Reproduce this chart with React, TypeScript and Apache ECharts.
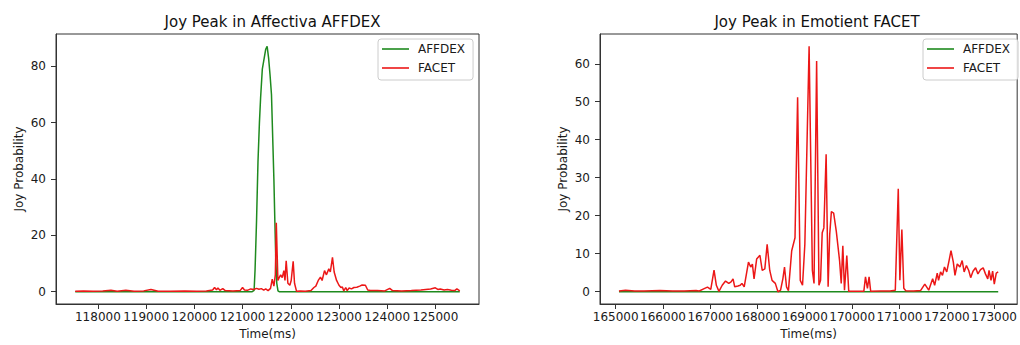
import React, { useEffect, useRef } from "react";
import * as echarts from "echarts";

// ---------- data (time in ms, joy probability) ----------
const leftAffdex: [number, number][] = [
  [117530, 0], [118500, 0], [119500, 0], [120500, 0], [121200, 0],
  [121240, 0.5], [121260, 8], [121290, 25], [121320, 46], [121350, 60],
  [121375, 69], [121410, 79], [121450, 83], [121480, 86], [121510, 87.1],
  [121540, 83], [121570, 77], [121600, 70], [121630, 52], [121650, 40],
  [121670, 25], [121690, 11], [121710, 3], [121735, 0.3], [121760, 0],
  [122500, 0], [123500, 0], [124500, 0], [125505, 0],
];

const leftFacet: [number, number][] = [
  [117530, 0.2], [117700, 0.25], [117900, 0.2], [118100, 0.3], [118270, 0.5],
  [118400, 0.2], [118580, 0.5], [118750, 0.2], [118950, 0.3], [119100, 0.8],
  [119250, 0.2], [119500, 0.2], [119800, 0.25], [120050, 0.2], [120250, 0.3],
  [120380, 0.6], [120420, 1.5], [120460, 0.7], [120490, 1.3], [120530, 0.5],
  [120590, 1.1], [120640, 0.4], [120800, 0.3], [120950, 0.4], [121000, 1.5],
  [121040, 0.6], [121100, 0.5], [121170, 1.0], [121230, 0.8], [121290, 1.2],
  [121340, 0.9], [121390, 1.1], [121440, 0.6], [121480, 1.0], [121530, 0.4],
  [121580, 1.2], [121616, 4.5], [121650, 2], [121680, 6], [121700, 24.5],
  [121733, 4], [121760, 5], [121790, 6], [121823, 5], [121857, 7.5],
  [121880, 4], [121905, 11], [121940, 3], [121981, 2.3], [122009, 4],
  [122050, 10.8], [122078, 3], [122119, 0.2], [122200, 0.3], [122300, 0.2],
  [122420, 0.4], [122480, 1.5], [122520, 2], [122570, 4], [122616, 5.2],
  [122650, 4], [122700, 7.5], [122740, 6], [122789, 8.1], [122820, 7],
  [122865, 12.2], [122900, 7], [122950, 4], [123000, 2.3], [123040, 1.5],
  [123070, 1.7], [123100, 0.3], [123140, 1.5], [123170, 0.4], [123210, 1.3],
  [123260, 1], [123310, 1.5], [123370, 1.6], [123430, 2], [123480, 2.4],
  [123548, 2.3], [123596, 0.6], [123650, 0.4], [123800, 0.4], [123950, 0.3],
  [124052, 1.2], [124110, 0.4], [124300, 0.3], [124500, 0.4], [124700, 0.6],
  [124800, 0.8], [124900, 1.0], [124997, 1.4], [125050, 0.8], [125100, 1.0],
  [125180, 0.6], [125250, 0.8], [125330, 0.5], [125400, 0.4], [125445, 1.0],
  [125505, 0.3],
];

const rightAffdex: [number, number][] = [
  [165069, 0], [166000, 0], [167000, 0], [168000, 0], [169000, 0],
  [170000, 0], [171000, 0], [172000, 0], [173087, 0],
];

const rightFacet: [number, number][] = [
  [165069, 0.2], [165208, 0.4], [165400, 0.2], [165600, 0.2], [165936, 0.35],
  [166200, 0.2], [166450, 0.2], [166698, 0.3], [166767, 0.2], [166870, 0.8],
  [166940, 1.2], [167010, 0.6], [167079, 5.7], [167128, 1.7], [167183, 0.1],
  [167252, 1.7], [167322, 2.8], [167391, 2.2], [167439, 2.6], [167481, 3.4],
  [167516, 1.3], [167585, 1.5], [167633, 1.7], [167668, 2.2], [167717, 1.3],
  [167807, 7.8], [167855, 6.5], [167890, 7.3], [167925, 3.4], [167980, 8.6],
  [168049, 9.6], [168098, 5.6], [168153, 6.0], [168202, 12.5], [168257, 5.6],
  [168306, 3.0], [168375, 2.2], [168430, 0], [168486, 0.4], [168534, 3.4],
  [168569, 6.5], [168611, 1.3], [168652, 0.3], [168721, 10.8], [168791, 14.2],
  [168846, 51.2], [168902, 3.0], [168950, 1.7], [168999, 12.5], [169089, 64.6],
  [169158, 5.6], [169193, 2.2], [169248, 60.7], [169297, 1.7], [169331, 3.0],
  [169366, 15.5], [169401, 16.8], [169449, 36.2], [169491, 1.3], [169525, 15.1],
  [169560, 21.1], [169608, 20.7], [169664, 15.9], [169733, 8.2], [169768, 2.2],
  [169802, 12.1], [169837, 0.4], [169886, 9.5], [169927, 0.1], [170050, 0.1],
  [170246, 0.1], [170281, 3.9], [170322, 0.9], [170357, 3.9], [170391, 0.1],
  [170600, 0.2], [170800, 0.2], [170911, 0.4], [170974, 27.1], [171008, 3.0],
  [171050, 16.4], [171091, 0.9], [171133, 0.26], [171300, 0.2], [171445, 0.3],
  [171535, 2.0], [171618, 0.4], [171701, 3.4], [171743, 1.7], [171798, 4.9],
  [171826, 3.0], [171868, 5.2], [171909, 4.3], [171951, 6.5], [171999, 5.2],
  [172048, 8.2], [172089, 10.8], [172138, 7.8], [172173, 4.3], [172221, 7.3],
  [172277, 6.5], [172325, 8.2], [172367, 5.2], [172415, 6.9], [172464, 5.6],
  [172505, 3.7], [172554, 5.4], [172609, 6.3], [172658, 4.7], [172713, 5.8],
  [172769, 6.3], [172817, 4.7], [172866, 3.4], [172893, 5.6], [172935, 3.0],
  [172969, 5.4], [173004, 2.0], [173046, 4.9], [173087, 5.2],
];

const leftXTicks = [118000, 119000, 120000, 121000, 122000, 123000, 124000, 125000];
const leftYTicks = [0, 20, 40, 60, 80];
const rightXTicks = [165000, 166000, 167000, 168000, 169000, 170000, 171000, 172000, 173000];
const rightYTicks = [0, 10, 20, 30, 40, 50, 60];

const seriesNames = ["AFFDEX", "FACET"];
const titles = ["Joy Peak in Affectiva AFFDEX", "Joy Peak in Emotient FACET"];

// ---------- styling ----------
const FONT = "DejaVu Sans";
const GREEN = "#1e8a1e";
const RED = "#ec1717";
const INK = "#1a1a1a";
const SPINE = "#333333";

function extent(arrs: [number, number][][], idx: number) {
  let lo = Infinity;
  let hi = -Infinity;
  arrs.forEach((a) => a.forEach((p) => { lo = Math.min(lo, p[idx]); hi = Math.max(hi, p[idx]); }));
  const m = (hi - lo) * 0.05;
  return [lo - m, hi + m];
}

function xAxisFor(gridIndex: number, data: [number, number][][], ticks: number[]) {
  const [mn, mx] = extent(data, 0);
  return {
    type: "value",
    gridIndex,
    min: mn,
    max: mx,
    name: "Time(ms)",
    nameLocation: "middle",
    nameGap: 24,
    nameTextStyle: { fontFamily: FONT, fontSize: 12, color: INK },
    axisLine: { show: true, onZero: false, lineStyle: { color: SPINE, width: 1 } },
    axisTick: { show: true, length: 5, customValues: ticks, lineStyle: { color: SPINE } },
    axisLabel: {
      customValues: ticks,
      margin: 7,
      fontFamily: FONT,
      fontSize: 12,
      color: INK,
      formatter: (v: number) => String(v),
    },
    splitLine: { show: false },
  };
}

function yAxisFor(gridIndex: number, data: [number, number][][], ticks: number[]) {
  const [mn, mx] = extent(data, 1);
  return {
    type: "value",
    gridIndex,
    min: mn,
    max: mx,
    name: "Joy Probability",
    nameLocation: "middle",
    nameGap: 31,
    nameTextStyle: { fontFamily: FONT, fontSize: 12, color: INK },
    axisLine: { show: true, onZero: false, lineStyle: { color: SPINE, width: 1 } },
    axisTick: { show: true, length: 5, customValues: ticks, lineStyle: { color: SPINE } },
    axisLabel: {
      customValues: ticks,
      margin: 10,
      fontFamily: FONT,
      fontSize: 12,
      color: INK,
      formatter: (v: number) => String(v),
    },
    splitLine: { show: false },
  };
}

function legendAt(left: number) {
  return {
    left,
    top: 39,
    orient: "vertical",
    data: seriesNames,
    icon: "rect",
    itemWidth: 27,
    itemHeight: 1.6,
    itemGap: 5,
    padding: [3, 8, 5, 4],
    borderColor: "#cccccc",
    borderWidth: 1,
    borderRadius: 3,
    backgroundColor: "rgba(255,255,255,0.85)",
    selectedMode: false,
    textStyle: { fontFamily: FONT, fontSize: 12, lineHeight: 14, color: INK, padding: [0, 0, 0, 4] },
  };
}

function lineSeries(name: string, data: [number, number][], color: string, idx: number) {
  return {
    name,
    type: "line",
    data,
    xAxisIndex: idx,
    yAxisIndex: idx,
    color,
    showSymbol: false,
    symbol: "none",
    lineStyle: { color, width: 1.5 },
    emphasis: { disabled: true },
  };
}

export default function App() {
  const ref = useRef<HTMLDivElement>(null);
  useEffect(() => {
    if (!ref.current) return;
    const chart = echarts.init(ref.current, undefined, { renderer: "svg" });
    const option = {
      animation: false,
      backgroundColor: "#ffffff",
      textStyle: { fontFamily: FONT },
      title: [
        {
          text: titles[0], left: 267.5, top: 9, textAlign: "center",
          textStyle: { fontFamily: FONT, fontSize: 15, fontWeight: "normal", color: "#111" },
        },
        {
          text: titles[1], left: 812, top: 9, textAlign: "center",
          textStyle: { fontFamily: FONT, fontSize: 15, fontWeight: "normal", color: "#111" },
        },
      ],
      legend: [legendAt(378), legendAt(923)],
      grid: [
        { left: 56, top: 34, width: 423, height: 273, show: true, borderColor: SPINE, borderWidth: 1, backgroundColor: "transparent" },
        { left: 600, top: 34, width: 424, height: 273, show: true, borderColor: SPINE, borderWidth: 1, backgroundColor: "transparent" },
      ],
      xAxis: [
        xAxisFor(0, [leftAffdex, leftFacet], leftXTicks),
        xAxisFor(1, [rightAffdex, rightFacet], rightXTicks),
      ],
      yAxis: [
        yAxisFor(0, [leftAffdex, leftFacet], leftYTicks),
        yAxisFor(1, [rightAffdex, rightFacet], rightYTicks),
      ],
      series: [
        lineSeries(seriesNames[0], leftAffdex, GREEN, 0),
        lineSeries(seriesNames[1], leftFacet, RED, 0),
        lineSeries(seriesNames[0], rightAffdex, GREEN, 1),
        lineSeries(seriesNames[1], rightFacet, RED, 1),
      ],
    };
    chart.setOption(option as any);
    return () => chart.dispose();
  }, []);
  return (
    <div
      ref={ref}
      style={{ position: "absolute", left: 0, top: 0, width: 1020, height: 345, background: "#fff" }}
    />
  );
}
